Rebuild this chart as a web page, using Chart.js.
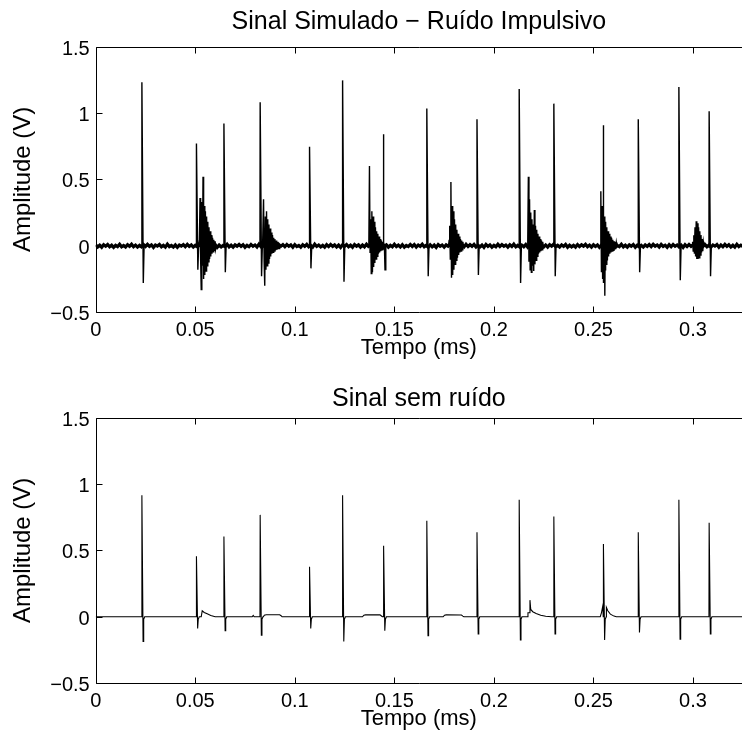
<!DOCTYPE html>
<html><head><meta charset="utf-8">
<script src="https://cdn.jsdelivr.net/npm/chart.js@4.4.1/dist/chart.umd.min.js"></script>
<style>
html,body{margin:0;padding:0;background:#fff;width:742px;height:740px;overflow:hidden;}
.box{position:absolute;left:0;width:742px;height:370px;}
#b1{top:0;}
#b2{top:371px;}
</style></head><body>
<div class="box" id="b1"><canvas id="c1"></canvas></div>
<div class="box" id="b2"><canvas id="c2"></canvas></div>
<script>
const xTickLabels = ['0','0.05','0.1','0.15','0.2','0.25','0.3'];
const yTickLabels = ['\u22120.5','0','0.5','1','1.5'];
const timeMax = 0.3246;

const spikeTimes   = [0.0231,0.0505,0.0643,0.0825,0.1073,0.1239,0.1445,0.1662,0.1914,0.2126,0.2300,0.2549,0.2724,0.2928,0.3080];
const noisyPeaks   = [1.23,0.77,0.92,1.08,0.745,1.245,0.84,1.033,0.952,1.18,1.07,0.907,0.952,1.195,1.013];
const noisyTroughs = [-0.28,-0.18,-0.20,-0.23,-0.17,-0.27,-0.18,-0.23,-0.22,-0.28,-0.23,-0.376,-0.20,-0.26,-0.23];
const cleanPeaks   = [0.915,0.456,0.604,0.767,0.376,0.915,0.534,0.722,0.637,0.88,0.754,0.547,0.637,0.88,0.707];
const cleanTroughs = [-0.186,-0.088,-0.105,-0.138,-0.088,-0.186,-0.105,-0.143,-0.13,-0.175,-0.13,-0.175,-0.118,-0.168,-0.13];

// background noise of the simulated signal (mV), one sample every noiseStep ms
const noiseStep = 0.001;
const noiseMilliVolts = [
7,-9,4,-11,8,-3,10,-7,5,-12,4,-6,11,-8,2,-10,8,-4,12,-7,5,-10,3,-8,9,
-5,11,-4,7,-12,6,-2,10,-8,4,-10,12,-6,3,-9,7,-11,5,-3,9,-7,10,-5,6,-10,
4,-8,12,-6,8,-10,2,-7,9,-4,10,-12,5,-9,3,-6,11,-8,5,-10,7,-3,10,-5,8,
-11,4,-7,10,-4,6,-9,12,-6,3,-10,7,-8,11,-5,5,-12,9,-3,8,-7,10,-4,6,-11,
9,-6,3,-11,7,-5,10,-8,4,-10,12,-5,6,-9,3,-11,8,-6,10,-4,7,-9,5,-12,8,
-4,10,-7,5,-11,9,-3,7,-10,6,-8,11,-5,4,-9,6,-12,8,-5,10,-3,7,-10,4,-7,
11,-6,5,-9,8,-11,3,-6,10,-5,9,-10,6,-4,12,-7,4,-10,7,-8,5,-12,9,-4,6,
-10,7,-3,10,-7,5,-11,8,-5,4,-9,11,-6,8,-4,10,-9,3,-8,6,-12,10,-5,7,-10,
4,-8,11,-5,9,-4,6,-10,7,-6,12,-8,3,-10,5,-7,9,-11,5,-4,8,-6,10,-7,4,
-9,6,-10,8,-3,12,-6,4,-9,7,-5,10,-11,5,-8,4,-10,9,-6,7,-3,11,-7,5,-10,
8,-5,6,-12,4,-7,10,-4,8,-9,6,-10,3,-6,11,-8,5,-10,7,-4,9,-11,5,-8,3,
-10,7,-5,9,-6,11,-3,6,-9,10,-5,4,-11,8,-7,10,-4,6,-9,5,-12,8,-6,10,-4,
7,-10,4,-8,12,-5,9,-7,5,-10,6,-3,9,-11,6,-7,10,-5,8,-9,4,-10,11,-6,5,-6
];

// ringing bursts of the simulated signal, one sample every burstStep ms
const burstStep = 0.0003;
const burstStarts = [0.0521,0.0840,0.1372,0.1775,0.2170,0.2537,0.2998];
const burstValues = [
  [0.05,0.36,-0.10,-0.33,0.33,-0.15,0.52,-0.25,0.30,-0.22,0.26,-0.19,0.22,-0.15,0.18,-0.12,0.14,-0.10,0.11,-0.08,0.08,-0.06,0.06,-0.045,0.045,-0.035,0.035,-0.025],
  [0.02,0.35,-0.12,-0.30,0.22,-0.18,0.26,-0.15,0.20,-0.13,0.16,-0.10,0.13,-0.08,0.10,-0.06,0.08,-0.05,0.06,-0.04,0.05,-0.035,0.04,-0.03,0.03,-0.025,0.025,-0.02],
  [0.03,0.60,-0.05,0.20,-0.21,0.26,-0.20,0.22,-0.16,0.18,-0.13,0.14,-0.10,0.11,-0.08,0.09,-0.06,0.07,-0.05,0.05,-0.04,0.04,-0.03,0.03,-0.025,0.025],
  [0.04,0.15,-0.10,0.48,-0.24,0.30,-0.22,0.26,-0.18,0.20,-0.14,0.16,-0.11,0.12,-0.09,0.09,-0.07,0.07,-0.05,0.05,-0.04,0.04,-0.03,0.03],
  [0.03,0.52,-0.12,0.35,-0.18,0.25,-0.20,0.20,-0.15,0.16,-0.19,0.27,-0.14,0.15,-0.11,0.12,-0.08,0.09,-0.06,0.07,-0.05,0.05,-0.04,0.04,-0.03,0.03],
  [0.41,-0.20,0.30,-0.25,0.25,-0.28,0.22,-0.18,0.18,-0.14,0.14,-0.11,0.11,-0.08,0.09,-0.06,0.07,-0.05,0.06,-0.04,0.045,-0.035,0.035,-0.03,0.03,-0.025,0.025],
  [0.03,-0.04,0.08,-0.06,0.14,-0.08,0.185,-0.10,0.17,-0.10,0.14,-0.09,0.11,-0.07,0.08,-0.05,0.05,-0.04,0.03]
];

// slow humps of the clean signal: [time (ms), amplitude (V)]
const cleanBumps = [
  [[0.0530,0],[0.0535,0.045],[0.0545,0.032],[0.0560,0.022],[0.0578,0.01],[0.0600,0]],
  [[0.0786,0],[0.0791,0.01],[0.0796,0]],
  [[0.0842,0],[0.0847,0.012],[0.0856,0.015],[0.0924,0.015],[0.0931,0.008],[0.0936,0]],
  [[0.1340,0],[0.1347,0.012],[0.1355,0.014],[0.1428,0.014],[0.1435,0.006],[0.1440,0]],
  [[0.1745,0],[0.1752,0.012],[0.1760,0.014],[0.1837,0.013],[0.1844,0.005],[0.1849,0]],
  [[0.2168,0],[0.2171,0.03],[0.2177,0.03],[0.2181,0.125],[0.2185,0.055],[0.2195,0.038],[0.2212,0.025],[0.2235,0.012],[0.2260,0.004],[0.2290,0]],
  [[0.2534,0],[0.2540,0.03],[0.2547,0.083],[0.2565,0.07],[0.2572,0.045],[0.2585,0.02],[0.2603,0.005],[0.2615,0]]
];

function buildNoiseBand() {
  return noiseMilliVolts.map((mv, i) => ({x: i*noiseStep, y: mv/1000}));
}
function buildImpulses() {
  const pts = [{x:0,y:0},{x:timeMax+0.001,y:0}];
  spikeTimes.forEach((t, i) => {
    pts.push({x:t,y:0},{x:t+0.0001,y:noisyPeaks[i]},{x:t+0.0008,y:noisyTroughs[i]},{x:t+0.0012,y:0});
  });
  burstStarts.forEach((t0, b) => {
    const vals = burstValues[b];
    pts.push({x:t0-0.0003,y:0});
    vals.forEach((v, k) => pts.push({x:t0+k*burstStep, y:v}));
    pts.push({x:t0+vals.length*burstStep,y:0});
  });
  return pts.sort((a,b) => a.x-b.x);
}
function buildClean() {
  const pts = [{x:0,y:0},{x:timeMax+0.001,y:0}];
  spikeTimes.forEach((t, i) => {
    pts.push({x:t,y:0},{x:t+0.0001,y:cleanPeaks[i]},{x:t+0.0007,y:cleanTroughs[i]},{x:t+0.0010,y:-0.02},{x:t+0.0015,y:0});
  });
  cleanBumps.forEach(b => b.forEach(p => pts.push({x:p[0], y:p[1]})));
  return pts.sort((a,b) => a.x-b.x);
}

const FONT = "'Liberation Sans', Arial, Helvetica, sans-serif";
const framePlugin = {
  id: 'frame',
  afterDraw(chart) {
    const {ctx, chartArea: a, scales: {x, y}} = chart;
    const L = Math.round(a.left) + 0.5, T = Math.round(a.top) + 0.5, B = Math.round(a.bottom) + 0.5;
    ctx.save();
    ctx.strokeStyle = '#000'; ctx.lineWidth = 1;
    ctx.beginPath();
    ctx.moveTo(L, T); ctx.lineTo(a.right + 2, T);
    ctx.moveTo(L, T); ctx.lineTo(L, B);
    ctx.moveTo(L, B); ctx.lineTo(a.right + 2, B);
    x.ticks.forEach(t => {
      const px = Math.round(x.getPixelForValue(t.value)) + 0.5;
      ctx.moveTo(px, B); ctx.lineTo(px, B - 6);
      ctx.moveTo(px, T); ctx.lineTo(px, T + 6);
    });
    y.ticks.forEach(t => {
      const py = Math.round(y.getPixelForValue(t.value)) + 0.5;
      ctx.moveTo(L, py); ctx.lineTo(L + 6, py);
    });
    ctx.stroke();
    ctx.restore();
  }
};

function makeChart(id, titleText, titlePad, datasets) {
  return new Chart(document.getElementById(id), {
    type: 'line',
    data: { datasets: datasets.map(d => ({ data: d.data, borderColor: '#000', borderWidth: d.lw, pointRadius: 0, tension: 0, fill: false, borderJoinStyle: 'miter' })) },
    options: {
      responsive: true, maintainAspectRatio: false, animation: false, parsing: false, normalized: true,
      layout: { padding: 0 },
      plugins: {
        legend: { display: false }, tooltip: { enabled: false },
        title: { display: true, text: titleText, fullSize: false, color: '#000',
                 font: { family: FONT, size: 25, weight: 'normal' }, padding: titlePad }
      },
      scales: {
        x: { type: 'linear', min: 0, max: timeMax,
             grid: { display: false, drawTicks: false }, border: { display: false },
             ticks: { stepSize: 0.05, includeBounds: false, autoSkip: false, maxRotation: 0, minRotation: 0,
                      padding: 6.5, color: '#000', font: { family: FONT, size: 20 },
                      callback: (v, i) => xTickLabels[i] },
             title: { display: true, text: 'Tempo (ms)', color: '#000', font: { family: FONT, size: 22 },
                      padding: { top: 0, bottom: 8.4 } },
             afterFit: s => { s.height = 370 - 312.2; } },
        y: { min: -0.5, max: 1.5,
             grid: { display: false, drawTicks: false }, border: { display: false },
             ticks: { stepSize: 0.5, padding: 6, labelOffset: 2.5, color: '#000', font: { family: FONT, size: 20 },
                      callback: (v, i) => yTickLabels[i] },
             title: { display: true, text: 'Amplitude (V)', color: '#000', font: { family: FONT, size: 24 },
                      padding: { top: 9, bottom: 0 } },
             afterFit: s => { s.width = 95.7; } }
      }
    },
    plugins: [framePlugin]
  });
}

makeChart('c1', 'Sinal Simulado \u2212 Ru\u00eddo Impulsivo', { top: 7, bottom: 9.5 },
  [{ data: buildNoiseBand(), lw: 3.2 }, { data: buildImpulses(), lw: 1.4 }]);
makeChart('c2', 'Sinal sem ru\u00eddo', { top: 13.3, bottom: 3.2 },
  [{ data: buildClean(), lw: 1.1 }]);
</script>
</body></html>
